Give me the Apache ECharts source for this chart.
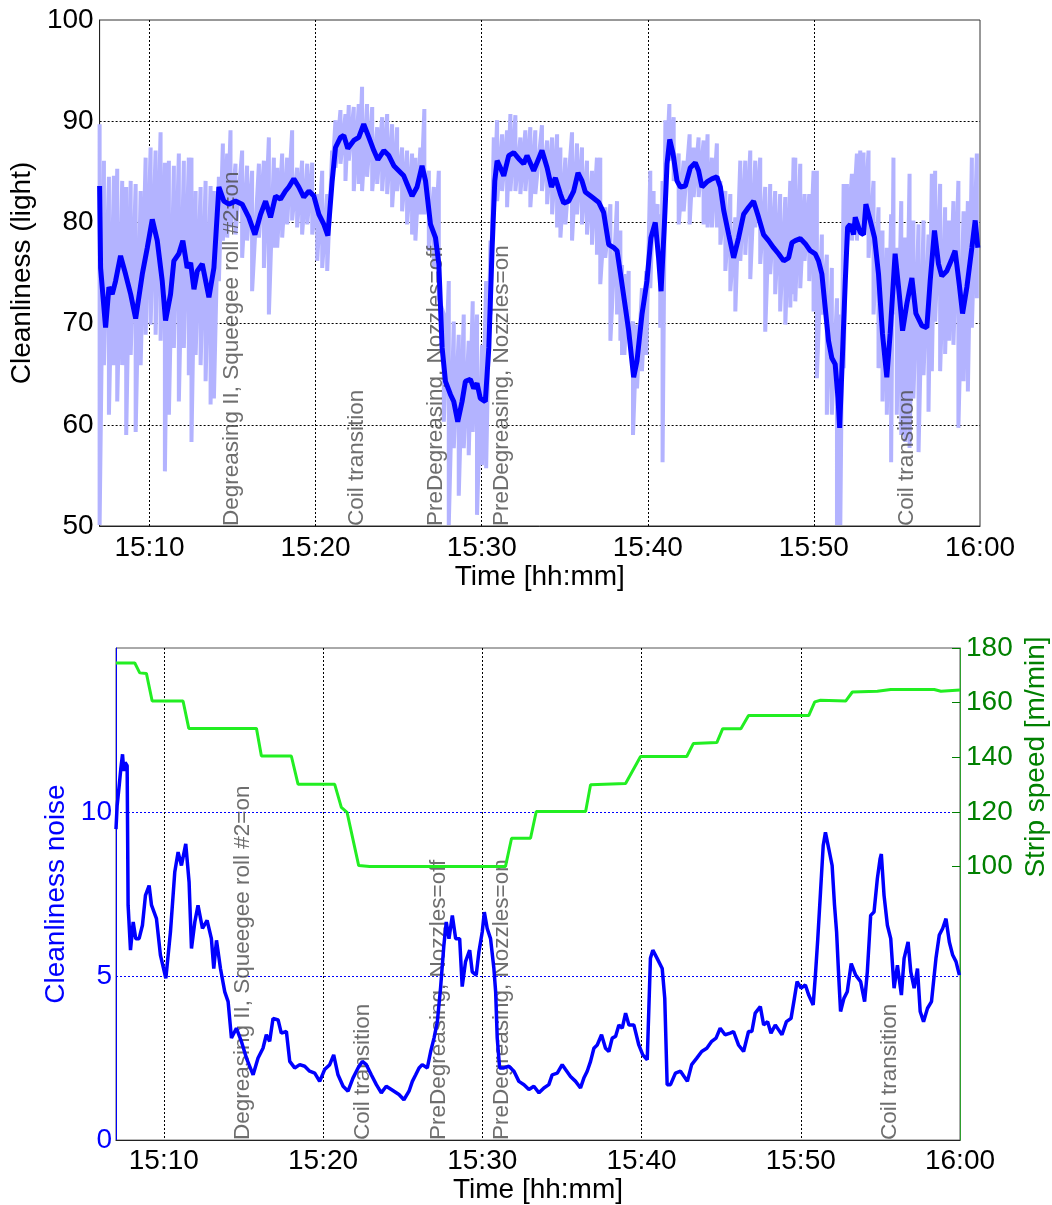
<!DOCTYPE html>
<html><head><meta charset="utf-8">
<script src="https://cdn.jsdelivr.net/npm/echarts@6/dist/echarts.min.js"></script>
<style>html,body{margin:0;padding:0;background:#fff;}#c{width:1052px;height:1205px;}</style>
</head><body><div id="c"></div>
<script>
// ---- axis ticks (minutes after 15:00) ----
const tickValues = [10, 20, 30, 40, 50, 60];
const tickLabels = ['15:10', '15:20', '15:30', '15:40', '15:50', '16:00'];
const topYTicks = [50, 60, 70, 80, 90, 100];
const noiseTicks = [0, 5, 10];
const speedTicks = [100, 120, 140, 160, 180];

// ---- annotations ----
const annotTimes = [14.95, 22.5, 27.25, 31.2, 55.6];
const annotTexts = ['Degreasing II, Squeegee roll #2=on', 'Coil transition',
  'PreDegreasing, Nozzles=off', 'PreDegreasing, Nozzles=on', 'Coil transition'];

// ---- top: raw cleanliness (light), envelope of the noisy trace ----
const lightT = [7.0,7.26,7.56,7.86,8.06,8.36,8.60,8.87,9.17,9.47,9.77,10.07,10.37,10.67,10.93,11.17,11.47,11.77,12.07,12.37,12.53,12.78,13.08,13.38,13.68,13.88,14.18,14.42,14.68,14.88,15.18,15.58,15.88,16.18,16.59,16.89,17.19,17.49,
 17.69,17.99,18.29,18.59,18.89,19.19,19.50,19.80,20.10,20.40,20.70,21.00,21.20,21.50,21.80,22.00,22.30,22.60,22.80,23.10,23.41,23.71,24.01,24.31,24.61,24.91,25.21,25.51,25.81,26.01,26.31,26.55,26.82,27.12,27.42,27.72,
 28.02,28.32,28.62,28.92,29.22,29.46,29.72,30.02,30.27,30.53,30.73,30.93,31.23,31.53,31.73,32.03,32.33,32.63,32.93,33.23,33.63,33.94,34.24,34.54,34.74,35.04,35.44,35.74,36.04,36.34,36.64,36.94,37.14,37.44,37.75,38.15,
 38.35,38.45,38.59,38.85,39.11,39.35,39.65,39.91,40.15,40.35,40.59,40.75,40.89,41.06,41.30,41.56,41.86,42.16,42.52,42.76,43.06,43.36,43.60,43.86,44.16,44.37,44.67,44.97,45.27,45.57,45.87,46.17,46.47,46.77,47.07,47.37,47.67,47.97,48.28,48.58,48.78,
 48.88,49.18,49.44,49.72,49.98,50.18,50.48,50.78,51.08,51.39,51.59,51.79,51.99,52.29,52.59,52.79,52.99,53.29,53.59,53.89,54.13,54.39,54.65,54.79,54.99,55.26,55.50,55.76,55.99,56.30,56.60,56.90,57.10,57.30,57.60,57.90,58.14,58.40,58.70,59.01,59.27,59.51,59.81];
const lightHi = [89.7,86.1,84.5,84.6,85.3,84.1,83.5,84.1,83.8,83.1,86.4,87.4,87.1,88.9,85.9,86.1,85.6,86.8,86.1,86.4,86.4,83.1,83.5,84.1,83.6,83.1,84.5,87.8,86.8,89.1,85.8,87.1,85.6,85.1,85.8,86.1,88.4,86.4,
 85.4,86.8,86.4,89.1,85.4,86.1,85.8,85.9,82.8,85.1,82.8,87.1,90.1,91.1,90.7,91.6,91.4,91.7,93.4,91.7,91.4,89.4,90.4,90.7,89.7,89.4,87.4,87.1,86.8,86.4,87.4,91.2,85.1,83.5,85.1,70.9,
 74.2,70.2,68.9,70.9,68.3,72.2,70.9,67.9,74.2,78.2,88.4,90.1,88.7,89.1,90.7,90.6,88.4,89.1,89.4,89.1,89.6,88.1,88.4,88.7,87.4,86.4,88.9,87.8,87.4,86.1,85.1,86.4,86.4,81.5,81.8,82.1,
 79.2,75.8,74.9,75.2,70.2,69.9,73.5,75.2,85.1,83.1,81.8,80.8,84.1,90.1,91.7,90.4,86.8,86.1,88.7,87.4,88.4,88.1,88.7,86.4,87.8,84.1,83.1,82.8,80.5,86.1,86.1,87.1,86.1,86.4,83.5,83.8,83.1,82.8,82.5,84.1,86.4,
 86.4,85.8,82.8,82.8,85.1,85.1,78.8,76.8,75.5,72.5,70.9,83.8,83.8,84.8,86.8,87.1,86.9,87.1,84.1,81.5,79.2,77.5,80.8,86.4,77.5,82.1,78.5,84.8,80.2,79.8,80.2,78.8,84.8,85.1,83.8,81.5,80.2,82.1,84.1,81.1,82.1,86.4,86.8];
const lightLo = [50.1,65.9,61.0,65.9,62.3,65.9,59.0,66.9,59.3,65.9,68.9,69.9,68.9,68.3,55.4,61.0,67.6,62.3,67.6,64.9,58.3,66.9,65.9,64.3,62.0,62.6,74.2,78.2,78.5,79.5,78.8,76.5,78.2,73.2,78.5,75.5,70.9,77.5,
 77.5,78.5,79.8,80.2,79.5,78.8,79.8,78.8,76.2,75.5,75.2,84.5,85.4,85.8,84.1,86.1,83.1,83.8,83.1,84.5,83.1,83.8,83.1,82.8,81.5,83.1,81.1,79.8,78.8,78.2,80.8,80.8,77.2,75.5,72.5,60.3,
 50.1,57.7,53.0,57.7,57.0,59.3,51.1,56.0,55.7,70.9,80.8,82.1,83.1,81.5,83.1,83.1,82.8,83.1,81.5,82.8,83.1,81.8,80.8,79.5,78.5,79.8,78.2,80.8,79.8,78.8,77.8,76.8,73.9,76.5,68.3,70.9,
 68.3,66.9,66.9,68.9,59.0,63.6,65.3,66.9,73.5,79.8,78.8,69.6,56.3,83.1,86.1,84.1,79.8,81.1,79.8,82.5,82.5,79.8,79.5,79.5,79.5,77.8,75.2,73.2,71.2,76.2,76.8,74.4,79.5,75.9,69.2,74.9,72.9,71.2,69.9,71.6,72.9,
 72.2,73.5,76.2,74.2,71.2,64.6,70.9,61.0,61.0,50.1,50.1,65.6,77.5,78.2,78.2,78.8,78.8,76.5,70.9,65.6,62.3,61.0,56.3,70.9,61.0,59.0,58.3,57.7,62.6,57.3,64.9,61.3,65.3,70.2,65.3,67.0,68.3,67.9,59.7,64.3,63.3,69.6,72.5];

// ---- top: smoothed cleanliness (dark blue) ----
const smoothT = [7.0,7.06,7.36,7.56,7.76,7.96,8.26,8.56,8.87,9.17,9.57,9.87,10.17,10.47,10.77,10.97,11.27,11.47,11.77,12.01,12.27,12.48,12.68,12.88,13.18,13.58,13.88,14.18,14.48,14.78,15.18,15.58,15.98,16.35,16.69,16.99,17.29,17.59,
 17.89,18.19,18.39,18.69,18.99,19.29,19.60,19.90,20.20,20.50,20.74,21.00,21.20,21.50,21.70,21.94,22.30,22.60,22.90,23.21,23.51,23.75,24.11,24.41,24.71,25.01,25.31,25.51,25.81,26.11,26.41,26.62,26.92,27.22,27.42,27.62,
 27.82,28.12,28.32,28.56,28.82,29.02,29.32,29.52,29.72,29.92,30.22,30.43,30.63,30.79,30.93,31.13,31.33,31.63,31.93,32.23,32.53,32.73,33.13,33.33,33.63,33.94,34.20,34.44,34.74,34.94,35.24,35.54,35.80,36.04,36.24,36.64,37.04,37.34,37.65,37.95,38.15,38.35,
 38.65,38.85,39.15,39.35,39.65,39.95,40.19,40.45,40.65,40.80,41.0,41.16,41.32,41.52,41.76,41.96,42.26,42.56,42.86,43.06,43.26,43.56,43.86,44.16,44.37,44.57,44.87,45.17,45.47,45.77,46.07,46.37,46.67,46.97,47.27,47.57,47.87,48.18,48.48,48.68,
 48.88,49.18,49.48,49.78,50.08,50.28,50.48,50.68,50.88,51.08,51.28,51.45,51.55,51.69,51.89,52.03,52.19,52.39,52.49,52.79,52.99,53.13,53.39,53.65,53.89,54.13,54.39,54.59,54.89,55.14,55.34,55.60,55.90,56.14,56.50,56.80,57.00,57.26,57.50,57.70,58.00,58.26,58.50,58.75,58.95,59.21,59.51,59.71,59.87];
const smoothV = [83.6,75.5,69.6,73.6,72.9,74.2,76.7,74.9,72.9,70.5,74.9,77.5,80.3,78.2,74.2,70.3,72.9,76.2,76.9,78.2,75.5,76.0,73.4,75.2,75.9,72.6,75.5,83.5,82.1,81.8,82.1,81.8,80.5,78.8,80.8,82.1,80.5,82.6,
 82.3,83.1,83.5,84.3,83.5,82.5,83.1,82.6,80.8,79.8,78.7,84.1,87.4,88.4,88.6,87.3,88.1,88.4,89.7,88.4,87.1,86.2,87.1,86.6,85.6,85.1,84.6,83.8,82.6,83.5,85.6,84.1,79.8,78.5,75.9,67.6,
 64.3,63.0,62.3,60.3,62.3,64.3,64.5,63.6,64.1,62.6,62.3,67.6,77.5,84.1,86.1,85.4,84.6,86.6,86.9,86.3,85.8,86.6,85.1,85.9,87.1,85.4,83.5,84.4,82.8,81.9,82.1,83.1,84.9,84.1,83.0,82.5,82.0,81.0,77.8,77.5,77.2,75.0,
 71.6,69.3,64.7,66.3,70.9,74.2,78.5,80.0,76.5,73.2,79.8,85.8,88.2,86.8,84.1,83.5,83.6,85.4,85.9,85.1,83.5,84.0,84.3,84.5,83.5,81.2,78.8,76.5,78.5,80.8,81.5,82.1,80.5,78.8,78.2,77.5,76.9,76.2,76.5,78.0,
 78.2,78.4,77.9,77.2,76.9,76.2,74.9,71.6,68.3,66.6,66.0,62.7,59.7,65.6,74.2,79.5,79.8,78.8,80.5,79.0,78.8,81.8,80.2,78.5,74.9,69.0,64.7,69.0,76.9,72.9,69.3,72.0,74.5,71.0,69.8,69.6,74.2,79.2,75.9,74.7,75.2,76.2,77.2,73.9,71.0,73.6,77.5,80.2,77.5];

// ---- bottom: cleanliness noise ----
const noiseT = [7.0,7.07,7.20,7.30,7.41,7.49,7.57,7.70,7.76,7.91,8.08,8.24,8.45,8.66,8.85,9.08,9.23,9.54,9.79,10.13,10.42,10.69,10.90,11.11,11.38,11.59,11.74,11.95,12.15,12.43,12.72,12.99,13.14,13.31,13.56,13.83,14.04,14.25,14.56,14.87,15.19,15.61,15.92,16.23,16.44,16.65,16.86,17.18,17.38,17.70,17.91,18.22,18.54,18.85,19.16,19.48,19.79,20.10,20.42,20.67,20.94,21.26,21.57,21.88,22.20,22.47,22.72,23.03,23.35,23.66,23.97,24.29,
 24.77,25.08,25.40,25.61,25.82,26.03,26.23,26.55,26.76,26.97,27.18,27.38,27.59,27.74,27.91,28.12,28.33,28.58,28.74,28.95,29.21,29.37,29.62,29.79,30.00,30.13,30.31,30.52,30.73,30.84,30.94,31.09,31.36,31.67,31.99,32.30,32.62,32.93,33.24,33.56,33.87,34.18,34.39,34.71,35.02,35.23,35.54,35.86,36.17,36.38,36.59,36.80,37.01,37.22,37.49,37.74,37.95,38.16,38.37,38.58,38.79,39.00,39.21,39.52,39.83,40.08,40.36,40.56,40.71,40.98,41.30,41.46,41.61,41.82,42.13,42.45,
 42.88,43.15,43.47,43.78,44.10,44.41,44.68,44.94,45.25,45.57,45.78,46.09,46.41,46.72,46.93,47.14,47.46,47.67,47.92,48.13,48.40,48.61,48.82,49.10,49.39,49.60,49.77,50.02,50.29,50.50,50.78,50.92,51.07,51.24,51.41,51.55,51.76,51.97,52.12,52.25,52.39,52.50,52.71,52.92,53.17,53.45,53.76,54.01,54.18,54.39,54.60,54.81,54.98,55.06,55.23,55.44,55.65,55.86,56.07,56.32,56.49,56.74,56.91,57.12,57.33,57.50,57.71,57.96,58.21,58.49,58.70,58.91,59.12,59.33,59.54,59.75,59.96];
const noiseV = [9.48,10.19,10.80,11.31,11.76,11.25,11.51,11.41,7.16,5.79,6.65,6.14,6.14,6.55,7.46,7.76,7.16,6.75,5.64,4.93,6.35,8.17,8.78,8.37,9.03,7.86,5.84,6.65,7.16,6.45,6.70,6.14,5.23,6.09,5.23,4.52,4.22,3.11,3.41,3.01,2.50,1.99,2.50,2.80,3.21,3.01,3.71,3.66,3.26,3.31,2.40,2.20,2.30,2.25,2.10,2.04,1.79,2.15,2.30,2.60,1.99,1.64,1.49,1.89,2.20,2.40,2.30,1.99,1.69,1.44,1.64,1.54,
 1.39,1.23,1.49,1.79,1.99,2.20,2.30,2.20,2.70,3.11,3.61,4.63,5.94,6.65,6.14,6.85,6.14,6.14,4.68,5.44,5.79,5.13,5.03,5.74,6.35,6.95,6.45,6.14,5.23,4.52,3.11,2.20,2.20,2.25,2.10,1.79,1.69,1.54,1.64,1.44,1.59,1.69,1.99,2.04,2.30,2.15,1.94,1.79,1.59,1.89,2.10,2.40,2.80,2.90,3.21,2.80,2.70,3.11,3.16,3.51,3.41,3.87,3.51,3.51,2.90,2.60,2.45,5.54,5.79,5.54,5.23,4.32,1.69,1.69,2.04,2.10,
 1.79,2.30,2.50,2.70,2.80,3.01,3.11,3.41,3.21,3.26,3.31,2.90,2.70,3.31,3.31,3.87,4.07,3.51,3.61,3.26,3.51,3.36,3.21,3.61,3.71,4.32,4.83,4.63,4.73,4.42,4.12,5.03,6.14,7.56,8.98,9.38,8.88,8.37,7.16,6.35,4.93,3.92,4.32,4.52,5.38,5.03,4.83,4.22,5.13,6.85,6.95,7.97,8.57,8.72,7.46,6.55,6.14,4.63,5.33,4.42,5.54,6.04,5.13,4.63,5.23,3.92,3.61,4.02,4.22,5.54,6.25,6.45,6.75,6.04,5.64,5.44,5.03];

// ---- bottom: strip speed [m/min] ----
const speedT = [7.0,8.18,8.49,8.91,9.27,11.21,11.57,15.82,16.13,18.01,18.43,20.73,21.15,21.51,22.24,22.93,31.46,31.84,33.03,33.39,36.49,36.80,39.0,39.94,42.84,43.26,44.73,45.1,46.24,46.72,50.5,50.88,51.24,52.82,53.24,54.81,55.65,58.38,58.8,60.0];
const speedV = [174.5,174.5,170.9,170.7,160.6,160.6,150.6,150.6,140.5,140.5,130.2,130.2,121.7,119.9,100.4,100.1,100.1,110.4,110.4,120.2,120.2,130.0,130.4,140.3,140.3,145.1,145.4,150.5,150.5,155.3,155.3,160.3,160.9,160.6,163.9,164.2,164.8,164.8,164.2,164.6];

// ---- build ----
const FONT = 'Liberation Sans, Arial, Helvetica, sans-serif';
const zip = (a, b) => a.map((t, i) => [t, b[i]]);
const lightData = [];
lightT.forEach((t, i) => { lightData.push([t, lightHi[i]]); lightData.push([t, lightLo[i]]); });
const fmtTime = v => { const k = tickValues.indexOf(Math.round(v)); return k >= 0 ? tickLabels[k] : ''; };

function xAxisCfg(grid, gap, margin) {
  return {
    type: 'value', gridIndex: grid, min: 7, max: 60,
    axisLine: { show: true, onZero: false, lineStyle: { color: '#222', width: 1 } },
    axisTick: { show: false, customValues: tickValues.slice(0, 5) },
    axisLabel: { customValues: tickValues, formatter: fmtTime, fontSize: 28, fontFamily: FONT, color: '#000', margin: margin },
    splitLine: { show: true, lineStyle: { color: '#000', type: [2, 2], width: 1 } },
    name: 'Time [hh:mm]', nameLocation: 'middle', nameGap: gap,
    nameTextStyle: { fontSize: 28, fontFamily: FONT, color: '#000' }
  };
}
function annotSeries(xi, yi, yBase) {
  return {
    type: 'scatter', xAxisIndex: xi, yAxisIndex: yi, z: 3, silent: true,
    symbolSize: 0.01, itemStyle: { color: 'rgba(0,0,0,0)' },
    data: annotTimes.map((t, i) => ({ value: [t, yBase], name: annotTexts[i] })),
    label: { show: true, position: 'inside', rotate: 90, align: 'left', verticalAlign: 'middle',
      formatter: p => p.name, fontSize: 22.5, fontFamily: FONT, color: '#4a4a4a', offset: [0, 0] }
  };
}

const chart = echarts.init(document.getElementById('c'), null, { renderer: 'canvas' });
chart.setOption({
  animation: false,
  backgroundColor: '#fff',
  grid: [
    { left: 99, top: 20, width: 881, height: 506, show: true, borderColor: '#333', borderWidth: 1, containLabel: false },
    { left: 116, top: 648, width: 844, height: 497, show: true, borderColor: '#555', borderWidth: 1, containLabel: false }
  ],
  xAxis: [xAxisCfg(0, 34, 8), xAxisCfg(1, 31, 7)],
  yAxis: [
    { type: 'value', gridIndex: 0, min: 50, max: 100,
      axisLine: { show: true, lineStyle: { color: '#222' } },
      axisTick: { show: false, customValues: [60, 70, 80, 90] },
      axisLabel: { customValues: topYTicks, fontSize: 28, fontFamily: FONT, color: '#000', margin: 6 },
      splitLine: { show: true, lineStyle: { color: '#000', type: [2, 2], width: 1 } },
      name: 'Cleanliness (light)', nameLocation: 'middle', nameGap: 62,
      nameTextStyle: { fontSize: 28, fontFamily: FONT, color: '#000' } },
    { type: 'value', gridIndex: 1, position: 'left', min: 0, max: 15,
      axisLine: { show: true, lineStyle: { color: '#0000ff' } },
      axisTick: { show: false, customValues: [5, 10] },
      axisLabel: { customValues: noiseTicks, fontSize: 28, fontFamily: FONT, color: '#0000ff', margin: 4 },
      splitLine: { show: true, lineStyle: { color: '#0000ff', type: [2, 2], width: 1 } },
      name: 'Cleanliness noise', nameLocation: 'middle', nameGap: 40,
      nameTextStyle: { fontSize: 28, fontFamily: FONT, color: '#0000ff' } },
    { type: 'value', gridIndex: 1, position: 'right', min: 0, max: 180,
      axisLine: { show: true, lineStyle: { color: '#2e9e2e' } },
      axisTick: { show: true, inside: true, length: 8, customValues: speedTicks, lineStyle: { color: '#008000' } },
      axisLabel: { customValues: speedTicks, fontSize: 28, fontFamily: FONT, color: '#008000', margin: 6 },
      splitLine: { show: false } }
  ],
  graphic: [{
    type: 'text', x: 1036, y: 757, rotation: Math.PI / 2, silent: true,
    style: { text: 'Strip speed [m/min]', fontSize: 28, fontFamily: FONT, fill: '#008000', align: 'center', verticalAlign: 'middle' }
  }],
  series: [
    { type: 'line', xAxisIndex: 0, yAxisIndex: 0, z: 2, silent: true, showSymbol: false, symbol: 'none',
      data: lightData, lineStyle: { color: '#b3b3ff', width: 4 } },
    annotSeries(0, 0, 50),
    { type: 'line', xAxisIndex: 0, yAxisIndex: 0, z: 4, silent: true, showSymbol: false, symbol: 'none',
      data: zip(smoothT, smoothV), lineStyle: { color: '#0000ff', width: 5 } },
    annotSeries(1, 1, 0),
    { type: 'line', xAxisIndex: 1, yAxisIndex: 2, z: 4, silent: true, showSymbol: false, symbol: 'none',
      data: zip(speedT, speedV), lineStyle: { color: '#22ee22', width: 3 } },
    { type: 'line', xAxisIndex: 1, yAxisIndex: 1, z: 5, silent: true, showSymbol: false, symbol: 'none',
      data: zip(noiseT, noiseV), lineStyle: { color: '#0000ff', width: 3.5 } }
  ]
});
</script></body></html>
